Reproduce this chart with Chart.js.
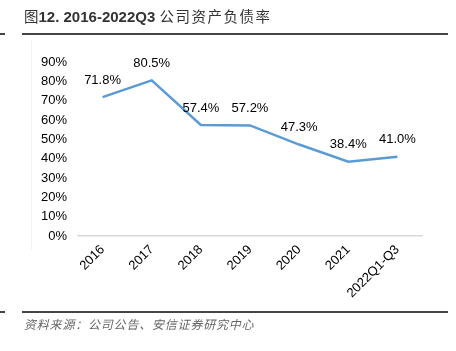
<!DOCTYPE html>
<html>
<head>
<meta charset="utf-8">
<script src="https://cdn.jsdelivr.net/npm/chart.js@4.4.0/dist/chart.umd.min.js"></script>
<style>
  html,body{margin:0;padding:0;background:#fff;}
  #wrap{position:relative;width:456px;height:351px;overflow:hidden;}
  #c{position:absolute;left:0;top:0;}
  .title{position:absolute;left:24px;top:5px;font-family:"Liberation Sans","Noto Sans CJK SC",sans-serif;font-size:15px;color:#333;white-space:nowrap;}
  .title b{font-weight:bold;}
  .title span{font-family:"Noto Sans CJK SC",sans-serif;font-weight:normal;letter-spacing:1.5px;font-size:14.5px;}
  .hline{position:absolute;height:2px;background:#444;}
  .src{position:absolute;left:24px;top:315px;font-family:"Noto Sans CJK SC",sans-serif;font-style:italic;font-size:12px;letter-spacing:0.8px;color:#666;white-space:nowrap;}
  .vline{position:absolute;left:31px;top:40px;width:1px;height:210px;background:#f3f3f3;}
</style>
</head>
<body>
<div id="wrap">
  <canvas id="c" width="456" height="351"></canvas>
  <div class="vline"></div>
  <div class="title"><span style="letter-spacing:0">图</span><b>12. 2016-2022Q3</b> <span>公司资产负债率</span></div>
  <div class="hline" style="left:22px;top:33px;width:426px;"></div>
  <div class="hline" style="left:0;top:33px;width:5px;"></div>
  <div class="hline" style="left:22px;top:311px;width:426px;"></div>
  <div class="hline" style="left:0;top:311px;width:5px;"></div>
  <div class="src">资料来源：公司公告、安信证券研究中心</div>
</div>
<script>
const categories = ["2016","2017","2018","2019","2020","2021","2022Q1-Q3"];
const debtRatio = [71.8, 80.5, 57.4, 57.2, 47.3, 38.4, 41.0];
const yTicks = [0,10,20,30,40,50,60,70,80,90];

const labelPlugin = {
  id: 'pointLabels',
  afterDatasetsDraw(chart) {
    const ctx = chart.ctx;
    const meta = chart.getDatasetMeta(0);
    ctx.save();
    ctx.font = '13px "Liberation Sans", Arial, sans-serif';
    ctx.fillStyle = '#000';
    ctx.textAlign = 'center';
    ctx.textBaseline = 'middle';
    meta.data.forEach((pt, i) => {
      ctx.fillText(debtRatio[i].toFixed(1) + '%', pt.x, pt.y - 17);
    });
    ctx.restore();
  }
};

new Chart(document.getElementById('c'), {
  type: 'line',
  data: {
    labels: categories,
    datasets: [{
      data: debtRatio,
      borderColor: '#5B9BD5',
      borderWidth: 2.5,
      pointRadius: 0,
      tension: 0,
      fill: false
    }]
  },
  options: {
    responsive: false,
    animation: false,
    devicePixelRatio: 1,
    layout: { padding: { left: 20, right: 34, top: 62, bottom: 40 } },
    plugins: { legend: { display: false }, tooltip: { enabled: false }, title: { display: false } },
    scales: {
      x: {
        offset: true,
        grid: { display: false, drawTicks: false },
        border: { display: true, color: '#d9d9d9', width: 1.5 },
        ticks: {
          color: '#000',
          font: { family: '"Liberation Sans", Arial, sans-serif', size: 13 },
          maxRotation: 45, minRotation: 45, padding: 6, autoSkip: false
        },
        afterFit(s) { s.height = 75; }
      },
      y: {
        min: 0, max: 90,
        afterBuildTicks(s) { s.ticks = yTicks.map(v => ({ value: v })); },
        grid: { display: false, drawTicks: false },
        border: { display: false },
        ticks: {
          color: '#000',
          font: { family: '"Liberation Sans", Arial, sans-serif', size: 13 },
          padding: 11,
          callback: v => v + '%'
        },
        afterFit(s) { s.width = 58; }
      }
    }
  },
  plugins: [labelPlugin]
});
</script>
</body>
</html>
